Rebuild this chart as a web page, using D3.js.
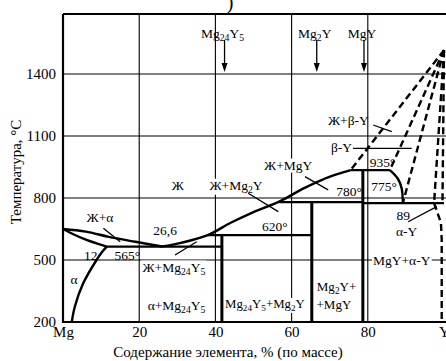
<!DOCTYPE html>
<html><head><meta charset="utf-8">
<script src="https://cdn.jsdelivr.net/npm/d3@7"></script>
<style>
body{margin:0;background:#fff}
svg{display:block}
text{font-family:"Liberation Serif","Times New Roman",serif;fill:#000}
</style>
</head><body>
<svg id="c" width="446" height="361"></svg>
<script>
// ---- data ----
const xTicks = [0, 20, 40, 60, 80, 100];
const xTickLabels = ["Mg", "20", "40", "60", "80", "Y"];
const yTicks = [200, 500, 800, 1100, 1400];
const gridX = [20, 40, 60, 80];
const gridY = [500, 800, 1100, 1400];

const liqMg   = [[0,650],[6,637],[12,612],[19,588],[26,565]];
const solMg   = [[0,650],[3,622],[6,598],[9,579],[11.5,565]];
const solvMg  = [[11.5,565],[10.3,540],[8.8,500],[5.3,387],[3.1,274],[2.3,200]];
const liqMain = [[26,565],[31,583],[38,620],[44,680],[50,732],[57,785],[63,845],[68,888],[72,915],[75.5,935]];
const betaCurve = [[85.8,935],[87.9,893],[88.9,845],[89.2,775]];
const isotherms = [[11.5,41.7,565],[38,65.3,620],[56.6,78.7,780],[78.7,100,775],[75.5,85.8,935]];
const compounds = [["Mg_24Y_5",41.7,620,42.4],["Mg_2Y",65.3,780,66.6],["MgY",78.7,935,79.0]];
const yMelt = [100, 1515];
const dashEnds = [[75.5,935],[85.8,935],[89.2,775],[97.4,775],[99.6,775]];
const solvY = [[97.4,775],[99.2,680],[99.4,600],[99.4,200]];

const pointers = [
  [[10.6,653],[15.0,588]],
  [[29.4,524],[35.1,588]],
  [[48.6,823],[56.5,734]],
  [[63.5,903],[69.6,839]],
  [[81.4,1153],[86.3,1121]],
  [[76.1,1040],[91.5,1040]],
  [[90.6,685],[98.1,758]]
];
// [text, x(%), T(°C), whiteBackground, fontSize]
const labels = [
  ["Ж+α", 9.7, 709, false, 13.5],
  ["26,6", 26.8, 645, false, 13.5],
  ["12", 7.3, 524, false, 13.5],
  ["565°", 16.9, 524, false, 13.5],
  ["α", 2.9, 408, false, 13.5],
  ["Ж", 30.1, 863, false, 13.5],
  ["Ж+Mg_24Y_5", 29.1, 467, true, 13.5],
  ["α+Mg_24Y_5", 29.8, 282, false, 13.5],
  ["Ж+Mg_2Y", 45.4, 863, true, 13.5],
  ["620°", 55.6, 664, false, 13.5],
  ["Ж+MgY", 59.1, 960, true, 13.5],
  ["780°", 75.1, 830, false, 13.5],
  ["775°", 84.3, 855, false, 13.5],
  ["935°", 83.9, 975, false, 13.5],
  ["89", 89.3, 718, false, 13.5],
  ["α-Y", 90.2, 637, false, 13.5],
  ["β-Y", 73.1, 1043, false, 13.5],
  ["Ж+β-Y", 74.9, 1177, false, 13.5],
  ["MgY+α-Y", 88.9, 497, true, 13.5],
  ["Mg_24Y_5+Mg_2Y", 53.0, 290, true, 12.8],
  ["Mg_2Y+", 71.8, 370, false, 13],
  ["+MgY", 71.1, 287, false, 13]
];
const topLabelT = 1597, arrowFrom = 1564, arrowTo = 1409;

// ---- scales ----
const svg = d3.select("#c");
const x = d3.scaleLinear().domain([0,100]).range([63,444]);
const y = d3.scaleLinear().domain([200,1690]).range([322,14]);
const line = d3.line().x(d=>x(d[0])).y(d=>y(d[1]));
const smooth = d3.line().x(d=>x(d[0])).y(d=>y(d[1])).curve(d3.curveCatmullRom.alpha(0.5));

// caption fragment
svg.append("text").attr("x",230).attr("y",9).attr("text-anchor","middle").style("font-size","20px").text(")");

// grid
const g = svg.append("g");
g.selectAll(".gx").data(gridX).join("line")
  .attr("x1",d=>x(d)).attr("x2",d=>x(d)).attr("y1",y(1690)).attr("y2",y(200))
  .attr("stroke","#000").attr("stroke-width",1.1);
g.selectAll(".gy").data(gridY).join("line")
  .attr("y1",d=>y(d)).attr("y2",d=>y(d)).attr("x1",x(0)).attr("x2",446)
  .attr("stroke","#000").attr("stroke-width",1.1);

// frame
svg.append("path").attr("d",`M${x(0)},${y(1690)}H446M${x(0)},${y(1690)}V${y(200)}H446`)
  .attr("fill","none").attr("stroke","#000").attr("stroke-width",2.2);

function addRich(sel, str, fs){
  const parts = str.split(/(_\d+)/).filter(s=>s.length);
  let sub=false;
  parts.forEach(p=>{
    if(p[0]==="_"){
      sel.append("tspan").attr("dy",3).style("font-size",(fs*0.72)+"px").text(p.slice(1));
      sub=true;
    } else {
      const t = sel.append("tspan").text(p);
      if(sub){ t.attr("dy",-3); sub=false; }
    }
  });
}
const lab = svg.append("g");
labels.forEach(L=>{
  const t = lab.append("text").attr("x",x(L[1])).attr("y",y(L[2])).attr("dy","0.35em")
    .attr("text-anchor","middle").style("font-size",L[4]+"px");
  addRich(t, L[0], L[4]);
  if(L[3]){
    const b = t.node().getBBox();
    lab.insert("rect","text").attr("x",b.x-1).attr("y",b.y+1).attr("width",b.width+2).attr("height",b.height-1).attr("fill","#fff");
  }
});
lab.selectAll("text").raise();

// phase lines
const ph = svg.append("g").attr("fill","none").attr("stroke","#000");
[liqMg, solMg, solvMg, liqMain, betaCurve].forEach(d=>{
  ph.append("path").attr("d",smooth(d)).attr("stroke-width",2.4);
});
isotherms.forEach(d=>{
  ph.append("line").attr("x1",x(d[0])).attr("x2",x(d[1])).attr("y1",y(d[2])).attr("y2",y(d[2])).attr("stroke-width",2.2);
});
compounds.forEach(d=>{
  ph.append("line").attr("x1",x(d[1])).attr("x2",x(d[1])).attr("y1",y(d[2])).attr("y2",y(200)).attr("stroke-width",3);
});
dashEnds.forEach(e=>{
  ph.append("path").attr("d",line([yMelt,e])).attr("stroke-width",2.4).attr("stroke-dasharray","7,4");
});
ph.append("path").attr("d",line(solvY)).attr("stroke-width",2.4).attr("stroke-dasharray","7,4");

pointers.forEach(p=>{
  ph.append("path").attr("d",line(p)).attr("stroke-width",1.3);
});

// top compound labels with arrows
compounds.forEach(d=>{
  const t = svg.append("text").attr("x",x(d[3])-2).attr("y",y(topLabelT)).attr("dy","0.35em")
    .attr("text-anchor","middle").style("font-size","13.5px");
  addRich(t, d[0], 13.5);
  svg.append("line").attr("x1",x(d[3])).attr("x2",x(d[3])).attr("y1",y(arrowFrom)).attr("y2",y(arrowTo)-9)
    .attr("stroke","#000").attr("stroke-width",1.3);
  svg.append("path").attr("d",`M${x(d[3])-3},${y(arrowTo)-9}L${x(d[3])},${y(arrowTo)}L${x(d[3])+3},${y(arrowTo)-9}Z`).attr("fill","#000");
});

// axes
const xa = svg.append("g").attr("transform",`translate(0,${y(200)})`)
  .call(d3.axisBottom(x).tickValues(xTicks).tickSize(0).tickPadding(4).tickFormat((d,i)=>xTickLabels[i]));
xa.select(".domain").remove();
xa.selectAll("text").style("font-size","15px").style("font-family",'"Liberation Serif",serif');
const ya = svg.append("g").attr("transform",`translate(${x(0)},0)`)
  .call(d3.axisLeft(y).tickValues(yTicks).tickSize(0).tickPadding(7).tickFormat(d3.format("d")));
ya.select(".domain").remove();
ya.selectAll("text").style("font-size","15px").style("font-family",'"Liberation Serif",serif');

svg.append("text").attr("x",228).attr("y",357).attr("text-anchor","middle").style("font-size","15px")
  .text("Содержание элемента, % (по массе)");
svg.append("text").attr("transform","translate(21,172) rotate(-90)").attr("text-anchor","middle").style("font-size","15px")
  .text("Температура, °С");
</script>
</body></html>
